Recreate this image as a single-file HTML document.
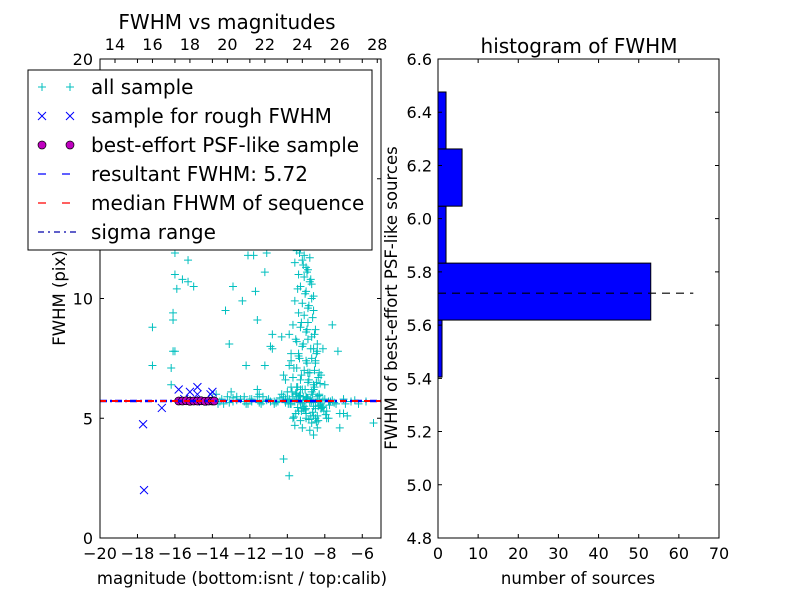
<!DOCTYPE html>
<html><head><meta charset="utf-8"><style>
body{margin:0;background:#fff}
svg text{font-family:"DejaVu Sans","Liberation Sans",sans-serif;fill:#000}
</style></head><body>
<svg id="c" width="800" height="600" viewBox="0 0 800 600" xmlns="http://www.w3.org/2000/svg">
<rect width="800" height="600" fill="#fff"/>
</svg>
<script>
const NS="http://www.w3.org/2000/svg";
const svg=document.getElementById('c');
// ---- data ----
const allX=[-16.0,-15.3,-16.0,-15.6,-15.3,-15.0,-15.9,-16.1,-16.1,-17.2,-16.1,-16.0,-17.2,-16.2,-16.2,-11.8,-11.1,-11.2,-12.9,-11.7,-12.4,-13.3,-11.6,-13.1,-12.2,-11.2,-11.6,-10.8,-10.9,-10.8,-7.3,-5.4,-7.2,-8.6,-10.2,-9.9,-7.0,-8.4,-7.8,-12.1,-11.5,
-14.0,-13.6,-13.2,-12.9,-12.5,-12.2,-11.9,-11.6,-11.3,-11.0,-10.7,-10.5,-10.2,-10.0,-9.8,-9.6,-9.4,-9.2,-9.0,-8.8,-8.6,-8.4,-8.2,-8.0,-7.7,-7.4,-7.0,-6.6,-6.2,-13.4,-12.7,-12.0,-11.4,-10.9,-10.3,-9.7,-9.1,-8.5,-7.9,-7.2,-6.8,-13.8,-13.0,-12.3,
-9.5,-9.3,-9.1,-8.9,-9.6,-9.2,-9.0,-8.8,-9.4,-9.1,-8.9,-8.7,-9.3,-9.0,-8.8,-8.6,-9.6,-9.2,-8.9,-8.7,-9.4,-9.1,-8.9,-8.6,-9.7,-9.3,-9.0,-8.7,-8.5,-9.5,-9.2,-8.9,-8.6,-8.4,-9.8,-9.4,-9.0,-8.7,-8.4,-9.9,-9.5,-9.1,-8.8,-8.5,-8.2,-9.7,-9.3,-8.9,-8.6,-8.3,-9.8,-9.2,-8.7,-8.3,-8.0,-10.2,-10.0,-9.5,-9.0,-8.6,-8.1,-9.4,-9.0,-8.6,-8.2,-7.9,-9.3,-9.0,-8.7,-8.4,-9.6,-9.2,-8.8,-10.1,-9.8,-9.5,-9.0,-8.5,-10.3,-9.9,-9.4,-8.9,
-9.35,-9.15,-8.95,-8.75,-9.45,-9.05,-8.85,-8.65,-9.25,-8.95,-8.55,-9.55,-9.15,-8.75,-8.45,-9.35,-8.95,-8.55,-9.65,-9.25,-8.85,-8.45,-9.45,-9.05,-8.65,-8.35,-9.75,-9.35,-8.95,-8.55,-8.25,-9.55,-9.15,-8.75,-8.35,-9.85,-9.45,-9.05,-8.65,-8.25,-7.95,-9.65,-9.25,-8.85,-8.45,-8.15,-9.95,-9.55,-9.15,-8.75,-8.35,-8.05,-7.75,-10.1,-9.7,-9.3,-8.9,-8.5,-8.1,-7.6,
-13.9,-13.5,-13.1,-12.7,-12.3,-11.9,-11.5,-11.1,-10.7,-10.4,-10.1,-9.9,-9.7,-9.5,-9.3,-9.1,-8.9,-8.7,-8.5,-8.3,-8.1,-7.8,-7.5,-13.7,-12.9,-12.1,-11.3,-10.6,-9.9,-9.3,-8.8,-8.3,-7.6,-6.9,-6.4,-5.8];
const allY=[11.9,11.6,11.0,10.8,10.7,10.5,10.4,9.4,9.1,8.8,7.8,7.8,7.2,7.1,6.4,11.8,11.9,11.1,10.5,10.3,9.9,9.5,9.1,8.1,7.2,7.2,6.2,8.5,8.0,7.9,7.8,4.8,4.6,4.3,3.3,2.6,5.2,4.6,5.0,11.8,6.0,
5.8,5.7,5.9,5.7,5.8,5.6,5.7,5.9,5.7,5.8,5.6,5.7,5.9,5.8,5.6,5.7,5.9,5.6,5.8,5.7,5.5,5.9,5.6,5.8,5.7,5.6,5.8,5.7,5.6,5.6,5.9,5.8,5.6,5.7,6.0,5.9,5.5,5.4,5.3,5.2,5.1,6.0,6.1,5.9,
12.0,12.1,11.8,12.2,11.5,11.6,11.3,11.7,11.0,10.9,11.2,10.6,10.5,10.3,10.7,10.1,9.9,9.8,9.6,10.0,9.4,9.3,9.0,9.5,8.9,8.8,8.6,8.4,8.7,8.2,8.0,8.3,7.9,8.1,7.7,7.6,7.4,7.5,7.8,7.2,7.1,7.0,6.9,7.3,6.8,6.7,6.6,6.5,6.4,6.9,6.3,6.2,6.1,6.0,6.4,6.8,6.1,6.0,5.9,6.2,5.5,5.3,5.2,5.1,5.4,5.0,4.9,5.0,4.8,5.1,4.7,4.6,4.5,6.6,7.4,6.3,5.4,5.0,8.4,8.5,7.7,6.9,
11.9,11.4,11.1,10.8,10.4,10.2,9.7,9.2,9.0,8.7,8.5,8.3,8.1,7.9,7.7,7.5,7.3,7.0,7.1,6.8,6.6,6.5,6.3,6.2,6.0,6.7,6.1,5.95,5.85,6.3,6.45,6.05,5.9,5.8,5.5,5.6,5.45,5.35,5.25,5.55,5.15,5.05,5.3,4.95,4.85,5.45,5.6,5.2,5.4,5.1,4.9,5.3,5.55,5.8,5.0,6.2,6.9,7.4,7.9,8.9,
5.75,5.8,5.65,5.75,5.7,5.8,5.65,5.75,5.7,5.85,5.65,5.75,5.7,5.8,5.65,5.75,5.85,5.7,5.65,5.8,5.75,5.7,5.65,5.6,5.85,5.6,5.9,5.65,5.8,5.9,5.65,5.95,5.75,5.6,5.75,5.7];
const roughX=[-17.7,-17.65,-16.7,-15.8,-15.2,-14.8,-14.8,-14.0,-14.1,-15.5,-15.0,-14.5];
const roughY=[4.75,2.0,5.43,6.2,6.1,6.3,6.0,6.1,6.0,5.8,5.75,5.7];
const bestX=[-15.8,-15.6,-15.4,-15.2,-15.0,-14.8,-14.6,-14.4,-14.2,-14.0,-13.9];
const bestY=[5.72,5.72,5.73,5.71,5.72,5.72,5.73,5.71,5.72,5.72,5.72];
const fwhmResult=5.72;
const histEdges=[5.405,5.619,5.833,6.047,6.262,6.476];
const histCounts=[1,53,2,6,2];
const xTicksL=[-20,-18,-16,-14,-12,-10,-8,-6];
const yTicksL=[0,5,10,15,20];
const topTicks=[14,16,18,20,22,24,26,28];
const xTicksR=[0,10,20,30,40,50,60,70];
const yTicksR=[4.8,5.0,5.2,5.4,5.6,5.8,6.0,6.2,6.4,6.6];
// ---- axes ----
const L={x0:100,x1:381,y0:538,y1:59,xmin:-20,xmax:-5,ymin:0,ymax:20};
const R={x0:438,x1:719,y0:538,y1:59,xmin:0,xmax:70,ymin:4.8,ymax:6.6};
const topOff=33.2;
const FT=16, FL=16.5, FB=20;
function sx(a,v){return a.x0+(v-a.xmin)/(a.xmax-a.xmin)*(a.x1-a.x0);}
function sy(a,v){return a.y0-(v-a.ymin)/(a.ymax-a.ymin)*(a.y0-a.y1);}
function el(tag,at,par){const e=document.createElementNS(NS,tag);for(const k in at)e.setAttribute(k,at[k]);(par||svg).appendChild(e);return e;}
function txt(s,x,y,at,par){const t=el('text',Object.assign({x:x,y:y},at),par);t.textContent=s;return t;}

const gL=el('g',{});


el('rect',{x:L.x0,y:L.y1,width:L.x1-L.x0,height:L.y0-L.y1,fill:'#fff'},gL);
const clipL=el('clipPath',{id:'cl'});el('rect',{x:L.x0,y:L.y1,width:L.x1-L.x0,height:L.y0-L.y1},clipL);
const gMarks=el('g',{'clip-path':'url(#cl)'},gL);
function plus(x,y,c,par){return el('path',{d:`M${x-4} ${y}h8M${x} ${y-4}v8`,stroke:c,'stroke-width':1,fill:'none'},par);}
function cross(x,y,c,par){return el('path',{d:`M${x-4} ${y-4}l8 8M${x-4} ${y+4}l8 -8`,stroke:c,'stroke-width':1,fill:'none'},par);}
for(let i=0;i<allX.length;i++){const p=plus(sx(L,allX[i]),sy(L,allY[i]),'#00bfbf',gMarks);

}
for(let i=0;i<roughX.length;i++){const p=cross(sx(L,roughX[i]),sy(L,roughY[i]),'#0000ff',gMarks);

}
for(let i=0;i<bestX.length;i++){const p=el('circle',{cx:sx(L,bestX[i]),cy:sy(L,bestY[i]),r:4,fill:'#bf00bf',stroke:'#000','stroke-width':0.7},gMarks);

}
const yr=sy(L,fwhmResult);
const ln1=el('line',{x1:L.x0,x2:L.x1,y1:yr,y2:yr,stroke:'#0000ff','stroke-width':2.5,'stroke-dasharray':'7,3,2,3'},gL);

const ln2=el('line',{x1:L.x0,x2:L.x1,y1:yr,y2:yr,stroke:'#ff0000','stroke-width':2,'stroke-dasharray':'6,6'},gL);

el('rect',{x:L.x0,y:L.y1,width:L.x1-L.x0,height:L.y0-L.y1,fill:'none',stroke:'#000'},gL);
xTicksL.forEach(v=>{const x=sx(L,v);el('path',{d:`M${x} ${L.y0}v-4M${x} ${L.y1}v4`,stroke:'#000'},gL);
const t=txt('\u2212'+Math.abs(v),x,559,{'font-size':FT,'text-anchor':'middle'},gL);});
yTicksL.forEach(v=>{const y=sy(L,v);el('path',{d:`M${L.x0} ${y}h4M${L.x1} ${y}h-4`,stroke:'#000'},gL);
const t=txt(String(v),L.x0-7,y+6,{'font-size':FT,'text-anchor':'end'},gL);});
topTicks.forEach(v=>{const x=sx(L,v-topOff);el('path',{d:`M${x} ${L.y1}v4`,stroke:'#000'},gL);
const t=txt(String(v),x,50,{'font-size':FT,'text-anchor':'middle'},gL);});
txt('magnitude (bottom:isnt / top:calib)',242,584,{'font-size':FL,'text-anchor':'middle',},gL);
txt('FWHM (pix)',65,298,{'font-size':FL,'text-anchor':'middle',transform:'rotate(-90 65 298)',},gL);
txt('FWHM vs magnitudes',227,29,{'font-size':FB,'text-anchor':'middle',},gL);

const lg=el('g',{});
el('rect',{x:28,y:70,width:344,height:180,fill:'#fff',stroke:'#000'},lg);
const items=[['all sample','plus','#00bfbf'],['sample for rough FWHM','x','#0000ff'],['best-effort PSF-like sample','o','#bf00bf'],['resultant FWHM: 5.72','dash','#0000ff'],['median FHWM of sequence','dash','#ff0000'],['sigma range','dashdot','#0000aa']];
items.forEach((it,i)=>{const y=87+i*29;const g=el('g',{},lg);
if(it[1]=='plus'){plus(42,y,it[2],g);plus(70,y,it[2],g);}
else if(it[1]=='x'){cross(42,y,it[2],g);cross(70,y,it[2],g);}
else if(it[1]=='o'){el('circle',{cx:42,cy:y,r:4,fill:it[2],stroke:'#000','stroke-width':0.7},g);el('circle',{cx:70,cy:y,r:4,fill:it[2],stroke:'#000','stroke-width':0.7},g);}
else if(it[1]=='dash'){el('line',{x1:38,x2:76,y1:y,y2:y,stroke:it[2],'stroke-width':1.2,'stroke-dasharray':'8,16'},g);}
else{el('line',{x1:38,x2:76,y1:y,y2:y,stroke:it[2],'stroke-width':1.2,'stroke-dasharray':'6,4,2,4'},g);}
txt(it[0],91,y+7,{'font-size':FB},g);});

const gR=el('g',{});
el('rect',{x:R.x0,y:R.y1,width:R.x1-R.x0,height:R.y0-R.y1,fill:'#fff'},gR);
histCounts.forEach((c,i)=>{const yT=sy(R,histEdges[i+1]),yB=sy(R,histEdges[i]);
const b=el('rect',{x:R.x0,y:yT,width:sx(R,c)-R.x0,height:yB-yT,fill:'#0000ff',stroke:'#000','stroke-width':1},gR);

});
const yd=sy(R,fwhmResult);
const dl=el('line',{x1:R.x0,x2:sx(R,Math.max(...histCounts)*1.2),y1:yd,y2:yd,stroke:'#000','stroke-width':1.2,'stroke-dasharray':'8,6'},gR);

el('rect',{x:R.x0,y:R.y1,width:R.x1-R.x0,height:R.y0-R.y1,fill:'none',stroke:'#000'},gR);
xTicksR.forEach(v=>{const x=sx(R,v);el('path',{d:`M${x} ${R.y0}v-4M${x} ${R.y1}v4`,stroke:'#000'},gR);
const t=txt(String(v),x,559,{'font-size':FT,'text-anchor':'middle'},gR);});
yTicksR.forEach(v=>{const y=sy(R,v);el('path',{d:`M${R.x0} ${y}h4M${R.x1} ${y}h-4`,stroke:'#000'},gR);
const t=txt(v.toFixed(1),R.x0-6,y+6,{'font-size':FT,'text-anchor':'end'},gR);});
txt('number of sources',578,584,{'font-size':FL,'text-anchor':'middle',},gR);
txt('FWHM of best-effort PSF-like sources',397,298,{'font-size':FL,'text-anchor':'middle',transform:'rotate(-90 397 298)',},gR);
txt('histogram of FWHM',579,53,{'font-size':FB,'text-anchor':'middle',},gR);
</script>
</body></html>
